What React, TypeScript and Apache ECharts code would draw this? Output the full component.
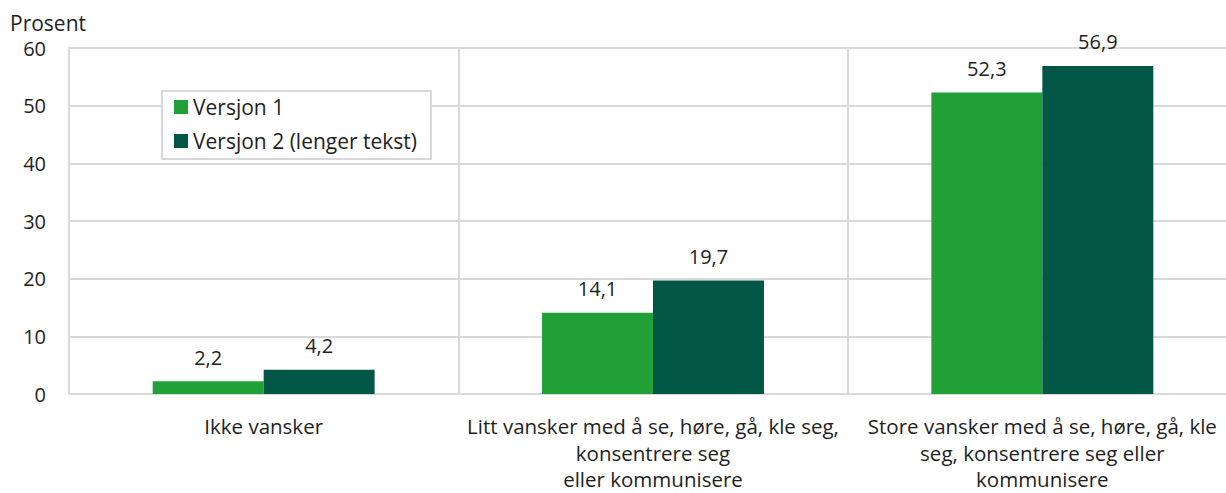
import React, { useEffect, useRef } from "react";
import * as echarts from "echarts";

const categories: string[] = [
  "Ikke vansker",
  "Litt vansker med å se, høre, gå, kle seg,\nkonsentrere seg\neller kommunisere",
  "Store vansker med å se, høre, gå, kle\nseg, konsentrere seg eller\nkommunisere",
];
const seriesNames: string[] = ["Versjon 1", "Versjon 2 (lenger tekst)"];
const version1: number[] = [2.2, 14.1, 52.3];
const version2: number[] = [4.2, 19.7, 56.9];
const yTicks: number[] = [0, 10, 20, 30, 40, 50, 60];
const yAxisTitle = "Prosent";

const COLORS = ["#21a038", "#025646"];
const FONT = "'Open Sans', 'Noto Sans', sans-serif";
const TEXT = "#1e1e1e";
const GRID = "#d9d9d9";

export default function App() {
  const ref = useRef<HTMLDivElement>(null);
  useEffect(() => {
    if (!ref.current) return;
    const chart = echarts.init(ref.current, null, { renderer: "svg" });
    const fmt = (p: any) => String(p.value).replace(".", ",");
    const labelStyle = {
      show: true,
      position: "top",
      distance: 14,
      formatter: fmt,
      fontFamily: FONT,
      fontSize: 20,
      lineHeight: 20,
      color: TEXT,
    };
    chart.setOption({
      animation: false,
      textStyle: { fontFamily: FONT, color: TEXT },
      graphic: [
        {
          type: "text",
          left: 10,
          top: 12,
          style: { text: yAxisTitle, fontFamily: FONT, fontSize: 21, fill: TEXT },
        },
      ],
      legend: {
        orient: "vertical",
        left: 162,
        top: 91,
        padding: [4, 14, 6, 12],
        itemGap: 10,
        itemWidth: 14,
        itemHeight: 14,
        icon: "rect",
        borderColor: GRID,
        borderWidth: 2,
        backgroundColor: "#fff",
        textStyle: { fontFamily: FONT, fontSize: 21, color: TEXT, lineHeight: 24 },
        data: seriesNames,
      },
      grid: {
        left: 69,
        top: 48,
        width: 1168,
        height: 346,
        containLabel: false,
        outerBoundsMode: "none",
      },
      xAxis: {
        type: "category",
        data: categories,
        axisLine: { show: true, lineStyle: { color: GRID, width: 2 } },
        axisTick: { show: false },
        splitLine: { show: true, lineStyle: { color: GRID, width: 2 } },
        axisLabel: {
          interval: 0,
          margin: 19,
          fontFamily: FONT,
          fontSize: 20.5,
          lineHeight: 26.5,
          color: TEXT,
          align: "center",
        },
      },
      yAxis: {
        type: "value",
        min: yTicks[0],
        max: yTicks[yTicks.length - 1],
        interval: 10,
        axisLine: { show: true, lineStyle: { color: GRID, width: 2 } },
        axisTick: { show: false },
        splitLine: { show: true, lineStyle: { color: GRID, width: 2 } },
        axisLabel: { margin: 23, fontFamily: FONT, fontSize: 20, color: TEXT },
      },
      series: [
        {
          name: seriesNames[0],
          type: "bar",
          data: version1,
          barGap: "0%",
          barCategoryGap: "43%",
          itemStyle: { color: COLORS[0] },
          label: labelStyle,
        },
        {
          name: seriesNames[1],
          type: "bar",
          data: version2,
          barGap: "0%",
          barCategoryGap: "43%",
          itemStyle: { color: COLORS[1] },
          label: labelStyle,
        },
      ],
    });
    return () => chart.dispose();
  }, []);
  return (
    <div
      ref={ref}
      style={{ position: "absolute", left: 0, top: 0, width: 1226, height: 493, background: "#fff" }}
    />
  );
}
